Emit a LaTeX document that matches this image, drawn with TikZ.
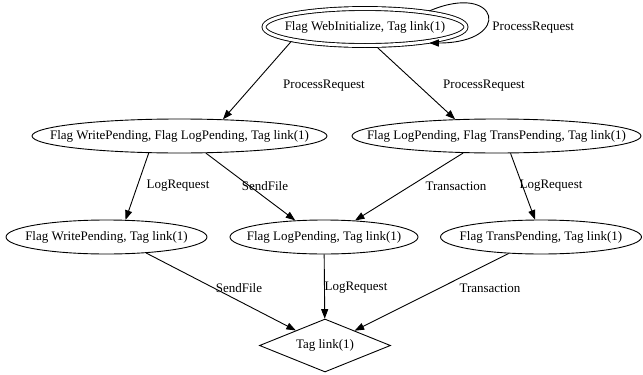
\documentclass[tikz,border=0pt]{standalone}
\usepackage{fontspec}
\setmainfont{Liberation Serif}
\usetikzlibrary{arrows.meta,shapes.geometric}
\newcommand\mytxt[1]{\makebox[0pt]{#1}}
\begin{document}
\begin{tikzpicture}[x=1pt,y=-1pt,
  every node/.style={font=\fontsize{13}{15}\selectfont},
  st/.style={ellipse, draw, line width=0.9pt, inner sep=0pt, minimum height=34pt},
  conn/.style={draw, line width=0.9pt, -{Triangle[length=9.5pt,width=7pt]}},
  lbl/.style={inner sep=0pt}]
\useasboundingbox (0,0) rectangle (643,375);
\node[st, double, double distance=3pt, outer sep=2pt, minimum width=202pt, minimum height=37pt] (top) at (365,27) {\mytxt{Flag WebInitialize, Tag link(1)}};
\node[st, minimum width=295pt] (wl) at (179.5,136) {\mytxt{Flag WritePending, Flag LogPending, Tag link(1)}};
\node[st, minimum width=289pt] (lt) at (496.5,136) {\mytxt{Flag LogPending, Flag TransPending, Tag link(1)}};
\node[st, minimum width=201pt] (w) at (106.5,237) {\mytxt{Flag WritePending, Tag link(1)}};
\node[st, minimum width=188pt] (l) at (324,237) {\mytxt{Flag LogPending, Tag link(1)}};
\node[st, minimum width=201pt] (t) at (541,237) {\mytxt{Flag TransPending, Tag link(1)}};
\node[diamond, draw, line width=0.9pt, inner sep=0pt, minimum width=131pt, minimum height=53pt] (d) at (325,345.5) {\mytxt{Tag link(1)}};

\draw[conn] (top.14) .. controls +(70,-30) and +(85,0) .. (top.-14) node[lbl, anchor=west] at (492,28) {ProcessRequest};
\draw[conn] (top.191) -- (wl.21) node[lbl] at (324,86) {ProcessRequest};
\draw[conn] (top.-59.5) -- (lt.158) node[lbl] at (484,86) {ProcessRequest};
\draw[conn] (wl.209.5) -- (w.42) node[lbl] at (178,186) {LogRequest};
\draw[conn] (wl.-33.2) -- (l.150.8) node[lbl] at (265,186) {SendFile};
\draw[conn] (lt.207.8) -- (l.28.2) node[lbl] at (456,186) {Transaction};
\draw[conn] (lt.-51.4) -- (t.109.4) node[lbl] at (551,186) {LogRequest};
\draw[conn] (w.-22.7) -- (d) node[lbl] at (239,288) {SendFile};
\draw[conn] (l) -- (d) node[lbl] at (356,288) {LogRequest};
\draw[conn] (t.207.9) -- (d) node[lbl] at (490,288) {Transaction};
\end{tikzpicture}
\end{document}
